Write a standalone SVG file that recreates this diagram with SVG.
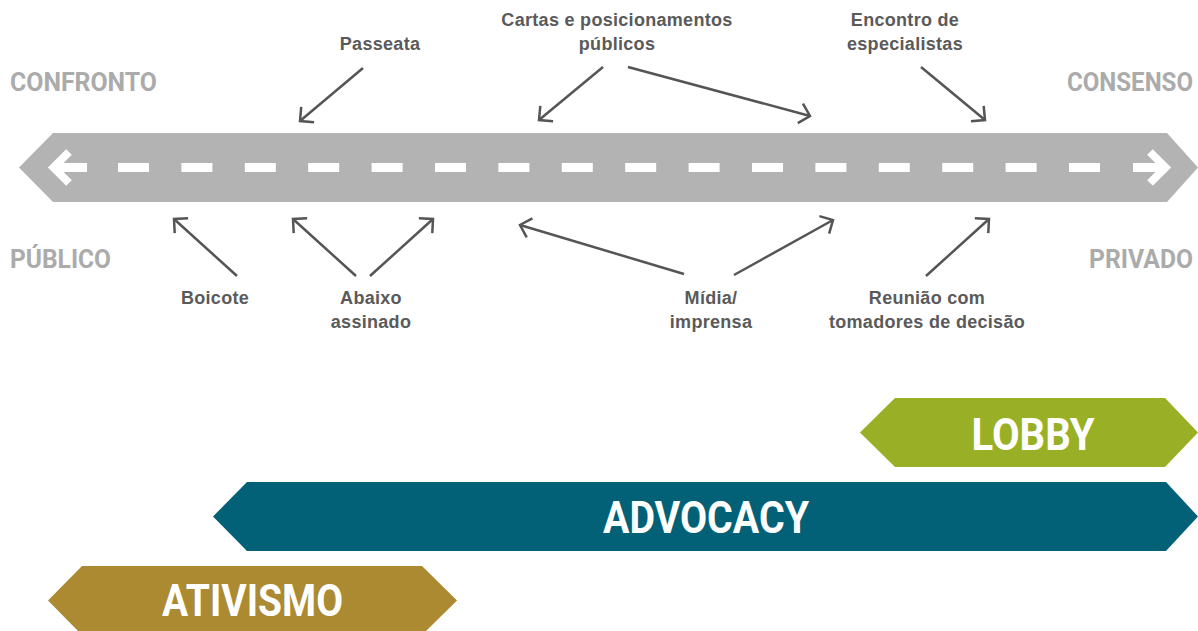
<svg xmlns="http://www.w3.org/2000/svg" width="1198" height="631" viewBox="0 0 1198 631">
<style>
.axis{font-family:Roboto,"Liberation Sans",sans-serif;font-weight:700;font-size:25px;fill:#ababab}
.lbl{font-family:"Liberation Sans",Arial,sans-serif;font-weight:700;font-size:18px;letter-spacing:0.3px;fill:#5a5a5a;text-anchor:middle}
.big{font-family:Roboto,"Liberation Sans",sans-serif;font-weight:700;font-size:45px;fill:#ffffff;text-anchor:middle}
.con{stroke:#555555;stroke-width:2.5;fill:none;marker-end:url(#head)}
</style>
<defs>
<marker id="head" markerUnits="userSpaceOnUse" viewBox="-14 -14 20 28" refX="0" refY="0" markerWidth="20" markerHeight="28" orient="auto" overflow="visible">
<path d="M-10,-10 L0,0 L-10,10" fill="none" stroke="#555555" stroke-width="2.5"/>
</marker>
</defs>
<rect width="1198" height="631" fill="#ffffff"/>
<g id="road">
<polygon points="19,167.5 53,133 1167,133 1198,167.5 1167,202 53,202" fill="#b3b3b3"/>
<line x1="118" y1="167.5" x2="1101" y2="167.5" stroke="#ffffff" stroke-width="9" stroke-dasharray="31 32.4"/>
<rect x="56" y="163" width="31" height="9" fill="#ffffff"/>
<path d="M69,152 L53.5,167.5 L69,183" fill="none" stroke="#ffffff" stroke-width="8"/>
<rect x="1133" y="163" width="31" height="9" fill="#ffffff"/>
<path d="M1150,152 L1165.5,167.5 L1150,183" fill="none" stroke="#ffffff" stroke-width="8"/>
</g>
<g id="axis-labels">
<text class="axis" x="10" y="91" textLength="147" lengthAdjust="spacingAndGlyphs">CONFRONTO</text>
<text class="axis" x="1067" y="91" textLength="126" lengthAdjust="spacingAndGlyphs">CONSENSO</text>
<text class="axis" x="10" y="268" textLength="101" lengthAdjust="spacingAndGlyphs">PÚBLICO</text>
<text class="axis" x="1089" y="268" textLength="104" lengthAdjust="spacingAndGlyphs">PRIVADO</text>
</g>
<g id="passeata"><text class="lbl" x="380" y="50">Passeata</text></g>
<g id="cartas"><text class="lbl" x="617" y="26">Cartas e posicionamentos</text><text class="lbl" x="617" y="50">públicos</text></g>
<g id="encontro"><text class="lbl" x="905" y="26">Encontro de</text><text class="lbl" x="905" y="50">especialistas</text></g>
<g id="boicote"><text class="lbl" x="215" y="304">Boicote</text></g>
<g id="abaixo"><text class="lbl" x="371" y="304">Abaixo</text><text class="lbl" x="371" y="328">assinado</text></g>
<g id="midia"><text class="lbl" x="711" y="304">Mídia/</text><text class="lbl" x="711" y="328">imprensa</text></g>
<g id="reuniao"><text class="lbl" x="927" y="304">Reunião com</text><text class="lbl" x="927" y="328">tomadores de decisão</text></g>
<g id="connectors">
<line class="con" x1="363" y1="68" x2="300" y2="121"/>
<line class="con" x1="603" y1="67" x2="539" y2="120"/>
<line class="con" x1="628" y1="67" x2="810" y2="116"/>
<line class="con" x1="921" y1="67" x2="985" y2="120"/>
<line class="con" x1="237" y1="276" x2="174" y2="219"/>
<line class="con" x1="356" y1="276" x2="293" y2="219"/>
<line class="con" x1="370" y1="276" x2="433" y2="219"/>
<line class="con" x1="684" y1="274" x2="520" y2="225"/>
<line class="con" x1="734" y1="275" x2="833" y2="220"/>
<line class="con" x1="926" y1="276" x2="989" y2="219"/>
</g>
<g id="lobby">
<polygon points="860,432.5 895,398 1165,398 1198,432.5 1165,467 895,467" fill="#99af25"/>
<text class="big" x="1033" y="450" textLength="123" lengthAdjust="spacingAndGlyphs">LOBBY</text>
</g>
<g id="advocacy">
<polygon points="213,516.5 247,482 1166,482 1198,516.5 1166,551 247,551" fill="#036177"/>
<text class="big" x="706" y="533" textLength="206" lengthAdjust="spacingAndGlyphs">ADVOCACY</text>
</g>
<g id="ativismo">
<polygon points="48,600.5 82,566 422,566 457,600.5 422,635 82,635" fill="#ab8a31"/>
<text class="big" x="252.5" y="616" textLength="181" lengthAdjust="spacingAndGlyphs">ATIVISMO</text>
</g>
</svg>
